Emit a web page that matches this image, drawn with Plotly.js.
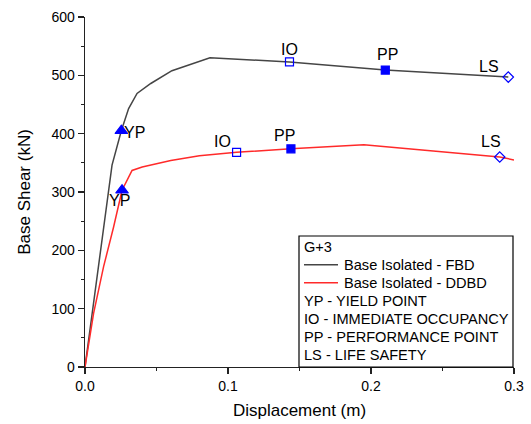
<!DOCTYPE html>
<html>
<head>
<meta charset="utf-8">
<script src="https://cdn.plot.ly/plotly-3.0.1.min.js"></script>
<style>html,body{margin:0;padding:0;background:#fff;}#chart{width:531px;height:424px;}</style>
</head>
<body>
<div id="chart"></div>
<script>
// Pushover curves
const fbdX = [0, 0.0189, 0.0254, 0.0305, 0.0364, 0.046, 0.0608, 0.0874, 0.143, 0.21, 0.296];
const fbdY = [0, 346, 405, 443, 469, 486, 508, 530, 523, 509, 497];
const ddbdX = [0, 0.006, 0.013, 0.02, 0.0259, 0.0329, 0.04, 0.06, 0.08, 0.106, 0.144, 0.195, 0.29, 0.3];
const ddbdY = [0, 92, 172, 240, 303, 337, 343, 354, 362, 368, 374, 381, 360, 355];

// Performance points: YP, IO, PP, LS
const pointLabels = ['YP', 'IO', 'PP', 'LS'];
const fbdPtX = [0.0254, 0.143, 0.21, 0.296];
const fbdPtY = [405, 523, 509, 497];
const ddbdPtX = [0.0259, 0.106, 0.144, 0.29];
const ddbdPtY = [303, 368, 374, 360];

const legendLines = ['G+3', 'Base Isolated - FBD', 'Base Isolated - DDBD', 'YP - YIELD POINT',
  'IO - IMMEDIATE OCCUPANCY', 'PP - PERFORMANCE POINT', 'LS - LIFE SAFETY'];

const xTitle = 'Displacement (m)';
const yTitle = 'Base Shear (kN)';

const FONT = 'Liberation Sans, Arial, sans-serif';
const BLUE = '#0000ff';
const symbols = ['triangle-up', 'square-open', 'square', 'diamond-open'];
const sizes = [11, 8, 8, 8];

const traces = [
  {x: fbdX, y: fbdY, mode: 'lines', line: {color: '#454545', width: 1.5}, showlegend: false, hoverinfo: 'skip'},
  {x: ddbdX, y: ddbdY, mode: 'lines', line: {color: '#ff2a2a', width: 1.5}, showlegend: false, hoverinfo: 'skip'}
];
for (let i = 0; i < 4; i++) {
  traces.push({x: [fbdPtX[i], ddbdPtX[i]], y: [fbdPtY[i], ddbdPtY[i]], mode: 'markers',
    marker: {symbol: symbols[i], size: sizes[i], color: BLUE, line: {color: BLUE, width: 1.2}},
    cliponaxis: false, showlegend: false});
}

// label offsets (pixels) relative to each point
const fbdShift = [[13, -2], [0, 12], [2, 16], [-19, 11]];
const ddbdShift = [[-3, -10], [-14, 11], [-6, 13], [-9, 16]];

const annotations = [];
for (let i = 0; i < 4; i++) {
  annotations.push({x: fbdPtX[i], y: fbdPtY[i], xref: 'x', yref: 'y', text: pointLabels[i], showarrow: false,
    xshift: fbdShift[i][0], yshift: fbdShift[i][1], font: {family: FONT, size: 16, color: '#000'}});
  annotations.push({x: ddbdPtX[i], y: ddbdPtY[i], xref: 'x', yref: 'y', text: pointLabels[i], showarrow: false,
    xshift: ddbdShift[i][0], yshift: ddbdShift[i][1], font: {family: FONT, size: 16, color: '#000'}});
}

// legend box
const plotH = 350, plotW = 429;
const legTopPx = 120.3, legStep = 18.05;
legendLines.forEach((t, i) => {
  const xp = (i === 1 || i === 2) ? (343 - 85) / plotW : (303 - 85) / plotW;
  annotations.push({x: xp, y: (legTopPx - i * legStep) / plotH, xref: 'paper', yref: 'paper',
    xanchor: 'left', yanchor: 'middle', text: t, showarrow: false, borderpad: 0,
    font: {family: FONT, size: 14.6, color: '#000'}});
});

const shapes = [
  {type: 'rect', xref: 'paper', yref: 'paper', x0: (299 - 85) / plotW, x1: (513 - 85) / plotW,
    y0: 0, y1: (367 - 236) / plotH, line: {color: '#000', width: 1.2}, fillcolor: 'rgba(255,255,255,1)', layer: 'above'},
  {type: 'line', xref: 'paper', yref: 'paper', x0: (304 - 85) / plotW, x1: (338 - 85) / plotW,
    y0: (legTopPx - legStep) / plotH, y1: (legTopPx - legStep) / plotH, line: {color: '#454545', width: 1.5}},
  {type: 'line', xref: 'paper', yref: 'paper', x0: (304 - 85) / plotW, x1: (338 - 85) / plotW,
    y0: (legTopPx - 2 * legStep) / plotH, y1: (legTopPx - 2 * legStep) / plotH, line: {color: '#ff2a2a', width: 1.5}}
];

const layout = {
  width: 531, height: 424,
  margin: {l: 85, r: 17, t: 17, b: 57},
  paper_bgcolor: '#fff', plot_bgcolor: '#fff',
  font: {family: FONT, size: 14, color: '#000'},
  showlegend: false,
  xaxis: {
    range: [0, 0.3], dtick: 0.1, tick0: 0, tickformat: '.1f',
    showline: true, linecolor: '#222', linewidth: 1.3, mirror: false,
    ticks: 'outside', ticklen: 6, tickwidth: 1.3, tickcolor: '#222',
    minor: {dtick: 0.05, ticks: 'outside', ticklen: 3, tickwidth: 1.3, tickcolor: '#222'},
    showgrid: false, zeroline: false,
    tickfont: {family: FONT, size: 14, color: '#000'},
    title: {text: xTitle, font: {family: FONT, size: 17, color: '#000'}, standoff: 11}
  },
  yaxis: {
    range: [0, 600], dtick: 100, tick0: 0,
    showline: true, linecolor: '#222', linewidth: 1.3, mirror: false,
    ticks: 'outside', ticklen: 6, tickwidth: 1.3, tickcolor: '#222',
    minor: {dtick: 50, ticks: 'outside', ticklen: 3, tickwidth: 1.3, tickcolor: '#222'},
    showgrid: false, zeroline: false,
    tickfont: {family: FONT, size: 14, color: '#000'},
    title: {text: yTitle, font: {family: FONT, size: 17, color: '#000'}, standoff: 16}
  },
  annotations: annotations,
  shapes: shapes
};

Plotly.newPlot('chart', traces, layout, {displayModeBar: false, staticPlot: true});
</script>
</body>
</html>
